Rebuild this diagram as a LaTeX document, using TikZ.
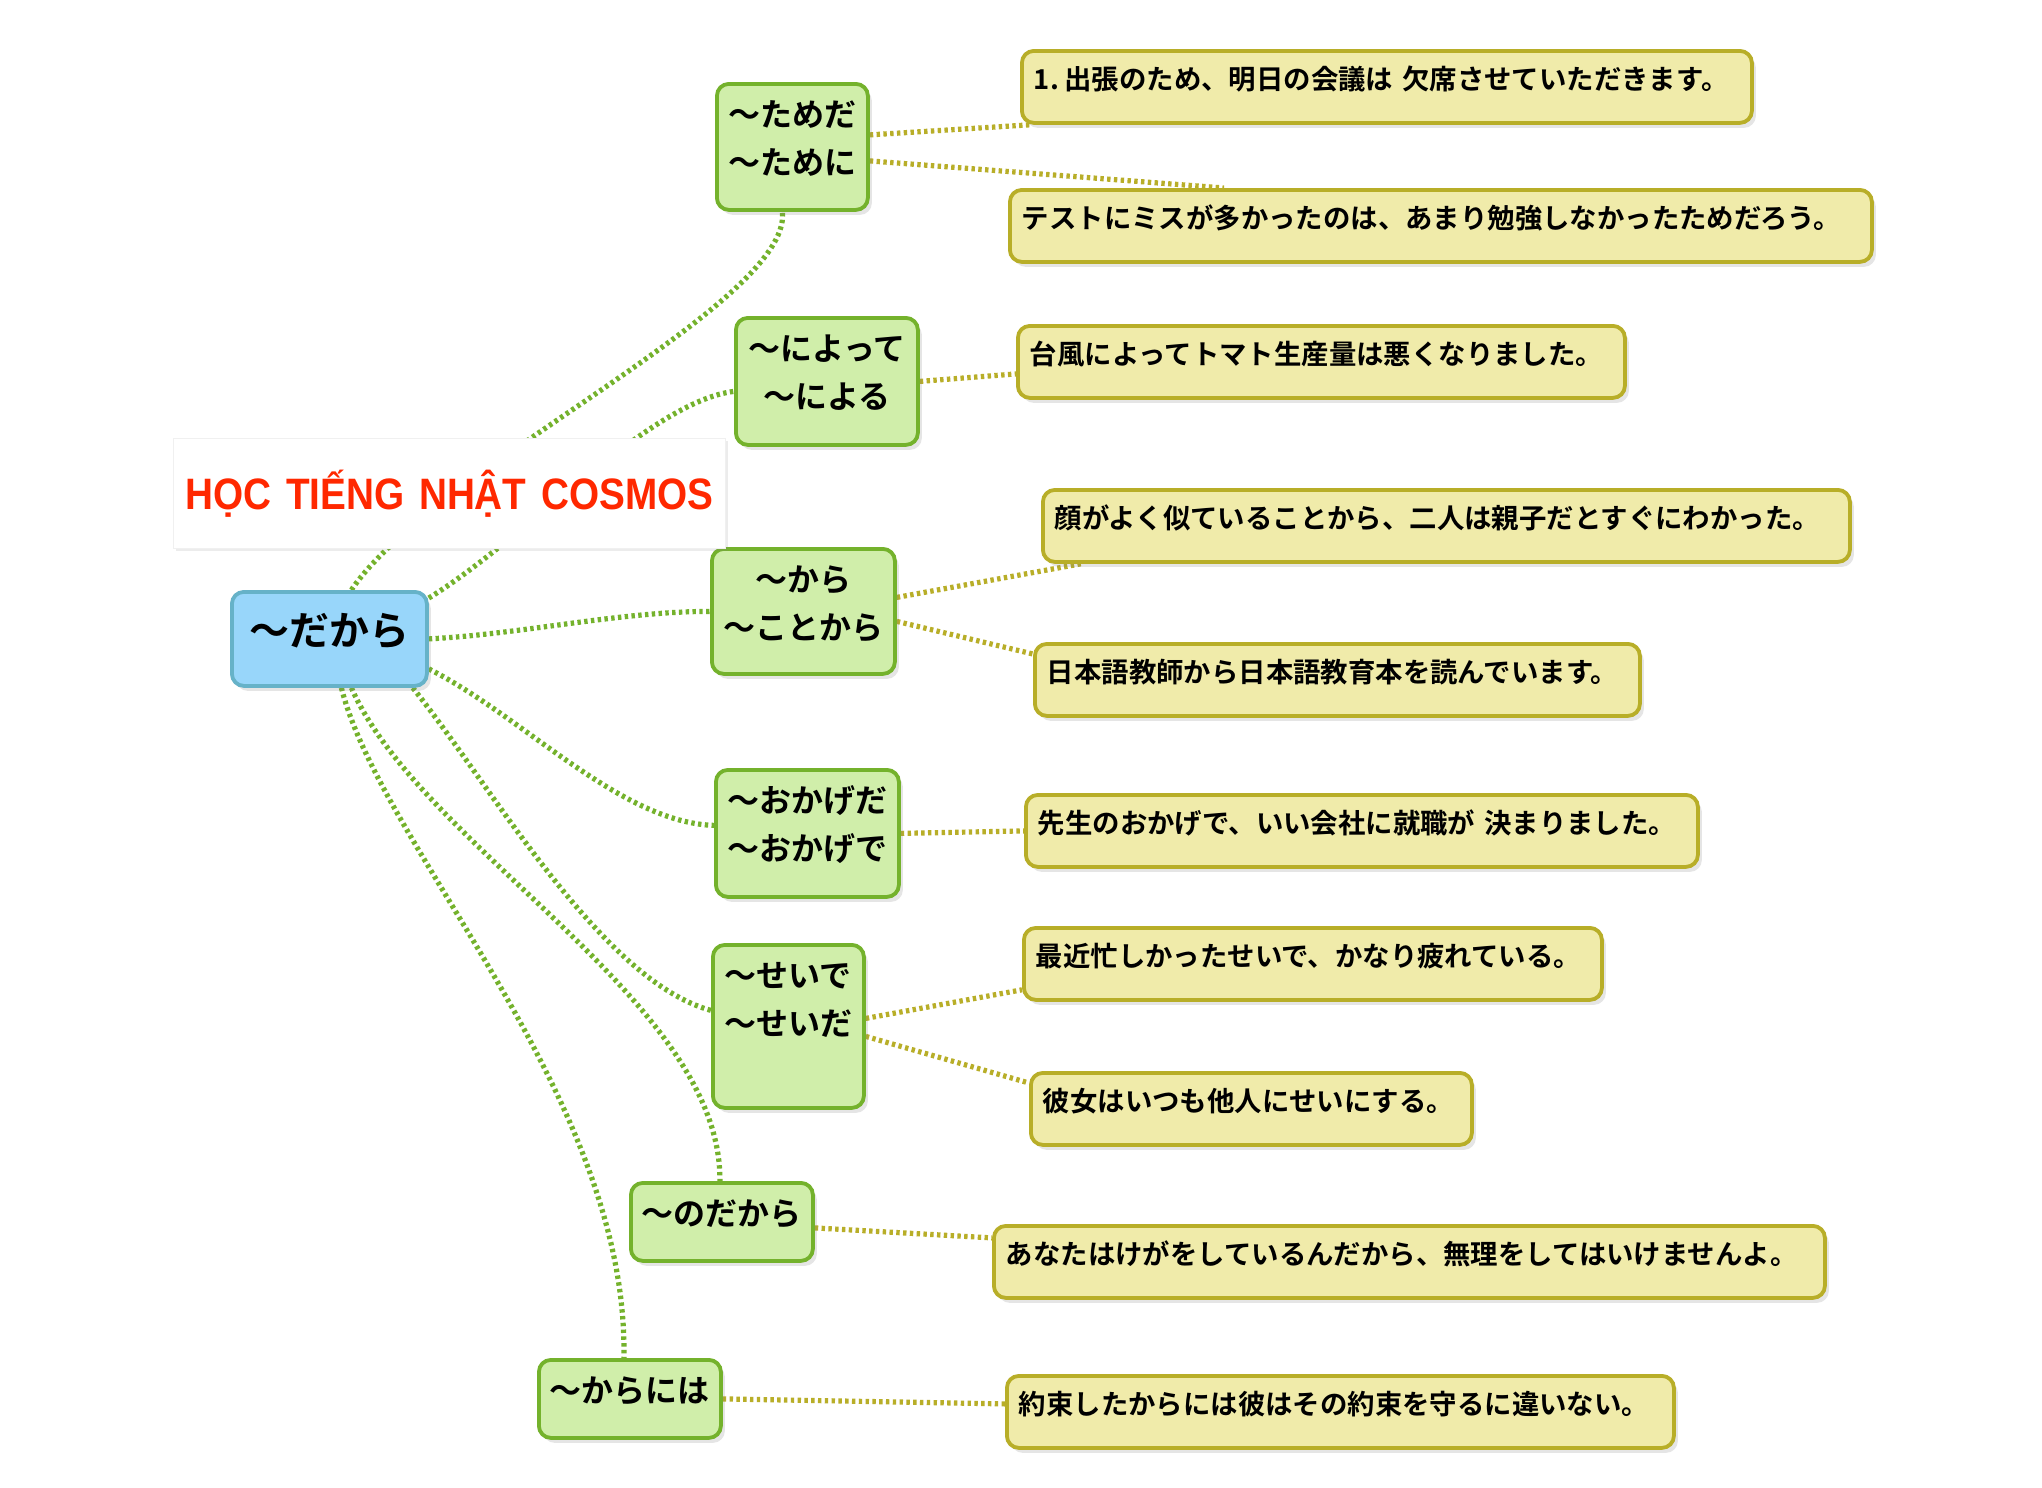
\documentclass[tikz,border=0pt]{standalone}
\usepackage{fontspec}
\setmainfont{Liberation Sans}
\newfontfamily\jpfont{Noto Sans CJK JP}[BoldFont={Noto Sans CJK JP Bold}]
\newfontfamily\titlefont{Liberation Sans}[FakeStretch=0.88, WordSpace=0.8]
\usepackage{xcolor}
\usetikzlibrary{calc, shadows}

\definecolor{rootfill}{RGB}{152,214,250}
\definecolor{rootline}{RGB}{102,178,200}
\definecolor{topicfill}{RGB}{208,238,170}
\definecolor{topicline}{RGB}{116,178,44}
\definecolor{notefill}{RGB}{240,235,170}
\definecolor{noteline}{RGB}{184,174,40}
\definecolor{titlered}{RGB}{255,40,0}

\pgfdeclarelayer{bg}
\pgfdeclarelayer{back}
\pgfsetlayers{bg,back,main}

\begin{document}
\begin{tikzpicture}[x=0.5pt, y=-0.5pt,
          box/.style = {anchor=north west, inner xsep=0pt, inner ysep=0pt, rounded corners=6pt,
                        line width=1.9pt, align=center,
                        drop shadow={shadow xshift=2pt, shadow yshift=-2.5pt, opacity=.2}},
          root/.style = {box, draw=rootline, fill=rootfill, text width=97.5pt,
                         font=\jpfont\bfseries\fontsize{20pt}{24pt}\selectfont,
                         text height=27pt, text depth=20pt},
          topic/.style = {box, draw=topicline, fill=topicfill, text height=21.5pt,
                          font=\jpfont\bfseries\fontsize{16pt}{24pt}\selectfont},
          note/.style = {box, draw=noteline, fill=notefill, inner xsep=6pt, align=left,
                         font=\jpfont\bfseries\fontsize{13.7pt}{16pt}\selectfont,
                         text height=19.3pt, text depth=16.7pt},
          banner/.style = {anchor=north west, fill=white, draw=black!6, inner sep=0pt,
                           text width=276pt, align=center, text height=35.4pt, text depth=19.6pt,
                           text=titlered, font=\titlefont\bfseries\fontsize{22pt}{26pt}\selectfont,
                           drop shadow={shadow xshift=1.5pt, shadow yshift=-1.5pt, opacity=.15}},
          glink/.style = {draw=topicline, line width=2.6pt, dash pattern=on 1.7pt off 1.7pt},
          olink/.style = {glink, draw=noteline} ]

\begin{pgfonlayer}{bg}
  \fill[white] (0,0) rectangle (2042,1488);
\end{pgfonlayer}
\useasboundingbox (0,0) rectangle (2042,1488);

% centre and grammar points
\node[root] (root) at (230,590) {〜だから};
\node[topic, text width=75.5pt, text depth=41.5pt] (tame)     at (715,82)   {〜ためだ\\〜ために};
\node[topic, text width=91pt,   text depth=42pt]   (yotte)    at (734,316)  {〜によって\\〜による};
\node[topic, text width=91.5pt, text depth=41pt]   (kara)     at (710,547)  {〜から\\〜ことから};
\node[topic, text width=91.5pt, text depth=42pt]   (okage)    at (714,768)  {〜おかげだ\\〜おかげで};
\node[topic, text width=75.5pt, text depth=60pt]   (sei)      at (711,943)  {〜せいで\\〜せいだ};
\node[topic, text width=91pt,   text depth=17.5pt] (nodakara) at (629,1181) {〜のだから};
\node[topic, text width=91pt,   text depth=17.5pt] (karaniha) at (537,1358) {〜からには};

% example sentences
\node[note, text width=353pt]   (ex1)  at (1020,49)   {\mbox{1.\hspace{0.2em}出張のため、明日の会議は 欠席させていただきます。}};
\node[note, text width=419pt]   (ex2)  at (1008,188)  {\mbox{テストにミスが多かったのは、あまり勉強しなかったためだろう。}};
\node[note, text width=291.5pt] (ex3)  at (1016,324)  {\mbox{台風によってトマト生産量は悪くなりました。}};
\node[note, text width=391.5pt] (ex4)  at (1041,488)  {\mbox{顔がよく似ていることから、二人は親子だとすぐにわかった。}};
\node[note, text width=290.5pt] (ex5)  at (1033,642)  {\mbox{日本語教師から日本語教育本を読んでいます。}};
\node[note, text width=324pt]   (ex6)  at (1024,793)  {\mbox{先生のおかげで、いい会社に就職が 決まりました。}};
\node[note, text width=277pt]   (ex7)  at (1022,926)  {\mbox{最近忙しかったせいで、かなり疲れている。}};
\node[note, text width=208.5pt] (ex8)  at (1029,1071) {\mbox{彼女はいつも他人にせいにする。}};
\node[note, text width=403.5pt] (ex9)  at (992,1224)  {\mbox{あなたはけがをしているんだから、無理をしてはいけませんよ。}};
\node[note, text width=321.5pt] (ex10) at (1005,1374) {\mbox{約束したからには彼はその約束を守るに違いない。}};

\node[banner] (title) at (173,438) {HỌC TIẾNG NHẬT COSMOS};

\begin{pgfonlayer}{back}
  \draw[glink] ([xshift=11pt]root.north) .. controls +(80,-120) and +(10,92) .. ([xshift=-5pt]tame.south);
  \draw[glink] ([yshift=-4pt]root.north east) .. controls +(95,-58) and +(-84,10) .. ([yshift=-5pt]yotte.west);
  \draw[glink] (root.east) .. controls +(95,-5) and +(-90,0) .. (kara.west);
  \draw[glink] ([yshift=-15pt]root.east) .. controls +(95,48) and +(-94,-3) .. ([yshift=4pt]okage.west);
  \draw[glink] ([xshift=-8pt]root.south east) .. controls +(80,100) and +(-110,-30) .. ([yshift=8pt]sei.west);
  \draw[glink] ([xshift=11pt]root.south) .. controls +(70,160) and +(2,-180) .. ([xshift=-1pt]nodakara.north);
  \draw[glink] ([xshift=6pt]root.south) .. controls +(40,160) and +(5,-260) .. ([xshift=-3pt]karaniha.north);

  \draw[olink] ([yshift=6pt]tame.east) -- ([xshift=5pt]ex1.south west);
  \draw[olink] ([yshift=-7pt]tame.east) -- ([xshift=108pt]ex2.north west);
  \draw[olink] (yotte.east) -- ([yshift=-6pt]ex3.west);
  \draw[olink] ([yshift=7pt]kara.east) -- ([xshift=20pt]ex4.south west);
  \draw[olink] ([yshift=-5pt]kara.east) -- ([yshift=-6pt]ex5.north west);
  \draw[olink] (okage.east) -- (ex6.west);
  \draw[olink] ([yshift=4pt]sei.east) -- ([yshift=6pt]ex7.south west);
  \draw[olink] ([yshift=-5pt]sei.east) -- ([yshift=-6pt]ex8.north west);
  \draw[olink] ([yshift=-3pt]nodakara.east) -- ([yshift=12pt]ex9.west);
  \draw[olink] (karaniha.east) -- ([yshift=4pt]ex10.west);
\end{pgfonlayer}
\end{tikzpicture}
\end{document}
